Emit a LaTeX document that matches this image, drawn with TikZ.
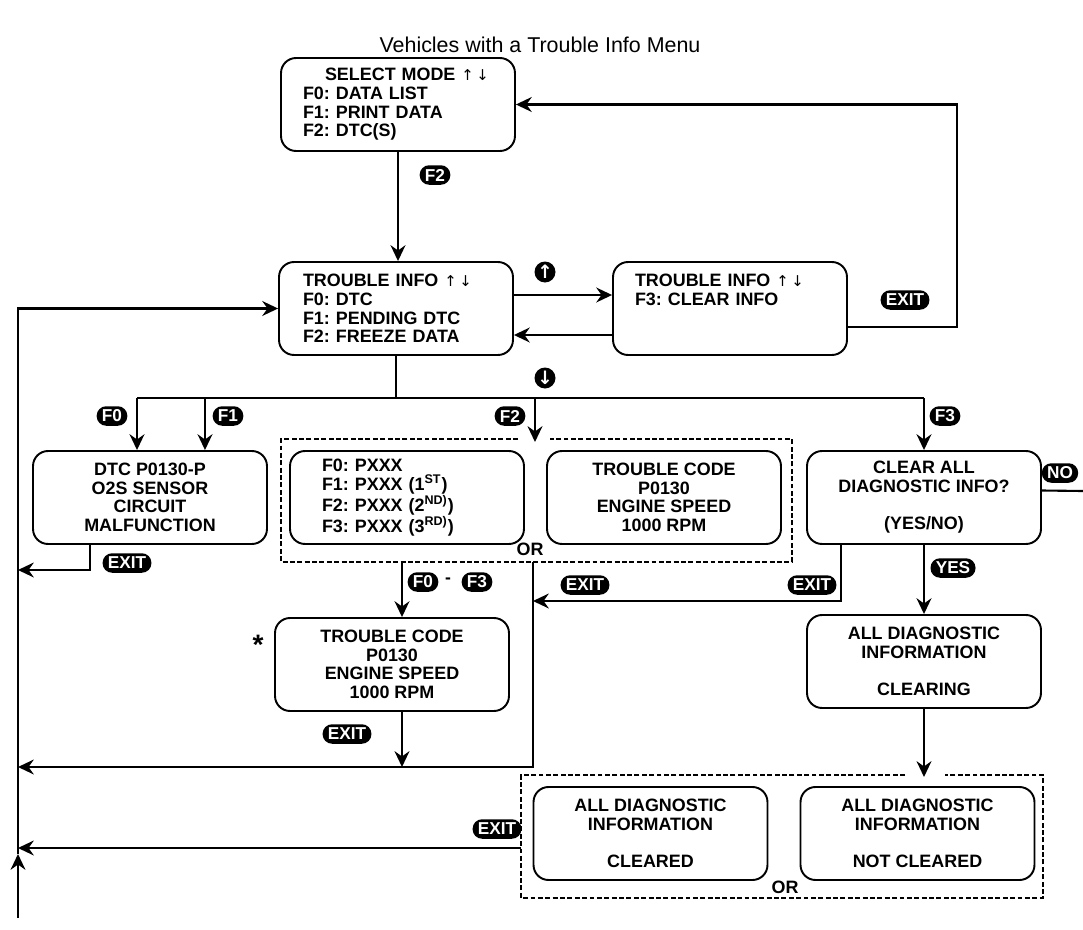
\documentclass[tikz,border=0pt]{standalone}
\usepackage{fontspec}
\setmainfont{Liberation Sans}
\newfontfamily\symfont{DejaVu Sans}
\usepackage{tikz}
\usetikzlibrary{arrows.meta,positioning,calc}
\newcommand{\updn}{{\symfont\mdseries\fontsize{8.5}{8.5}\selectfont ↑\,↓}}
\frenchspacing

\begin{document}
\begin{tikzpicture}[x=0.02cm,y=-0.02cm,
  scr/.style={draw,line width=1.1pt,rounded corners=0.3cm,minimum width=4.68cm,
              minimum height=1.86cm,inner sep=0pt,align=center,
              font=\bfseries\fontsize{10.2}{10.6}\selectfont},
  btn/.style={fill=black,text=white,rounded corners=0.19cm,minimum height=0.39cm,
              inner xsep=3pt,inner ysep=0pt,font=\bfseries\fontsize{9.8}{9.8}\selectfont},
  rnd/.style={circle,fill=black,text=white,minimum size=0.42cm,inner sep=0pt,
              font=\symfont\bfseries\fontsize{10.5}{10.5}\selectfont},
  grp/.style={line width=1pt,dash pattern=on 2.8pt off 1.4pt},
  arr/.style={-{Stealth[length=9pt,width=8.5pt,inset=3pt]},line width=1.2pt},
  lin/.style={line width=1.2pt}
]
  \useasboundingbox (0,0) rectangle (1083,930);
  \node[font=\fontsize{12.2}{14}\selectfont] (title) at (540,45) {Vehicles with a Trouble Info Menu};

  \node[scr,align=left,text width=3.8cm] (sel) at (398,104.5)
      {\hspace*{0.44cm}SELECT MODE \updn\\F0: DATA LIST\\F1: PRINT DATA\\F2: DTC(S)};
  \node[scr,align=left,text width=3.72cm] (ti1) at (396,308.5)
      {TROUBLE INFO \updn\\F0: DTC\\F1: PENDING DTC\\F2: FREEZE DATA};
  \node[scr,align=left,text width=3.8cm] (ti2) at (730,308.5)
      {TROUBLE INFO \updn\\F3: CLEAR INFO\\\mbox{}\\\mbox{}};
  \node[scr] (dtc) at (150,497.5) {DTC P0130-P\\O2S SENSOR\\CIRCUIT\\MALFUNCTION};
  \node[scr,align=left,text width=3.4cm] (pids) at (407,497.5)
      {F0: PXXX\\F1: PXXX (1\textsuperscript{ST})\\F2: PXXX (2\textsuperscript{ND)})\\F3: PXXX (3\textsuperscript{RD)})};
  \node[scr] (tc1) at (664,497.5) {TROUBLE CODE\\P0130\\ENGINE SPEED\\1000 RPM};
  \node[scr] (clr) at (924,497.5) {CLEAR ALL\\DIAGNOSTIC INFO?\\[10.6pt](YES/NO)};
  \node[scr] (tc2) at (392,664.5) {TROUBLE CODE\\P0130\\ENGINE SPEED\\1000 RPM};
  \node[scr] (clrg) at (924,661.5) {ALL DIAGNOSTIC\\INFORMATION\\[10.6pt]CLEARING};
  \node[scr] (done) at (650.5,833.5) {ALL DIAGNOSTIC\\INFORMATION\\[10.6pt]CLEARED};
  \node[scr] (fail) at (917.5,833.5) {ALL DIAGNOSTIC\\INFORMATION\\[10.6pt]NOT CLEARED};

  \draw[grp] (518,439) -- (281,439) -- (281,562) -- (792,562) -- (792,439) -- (550,439);
  \draw[grp] (905,775) -- (521,775) -- (521,898) -- (1043,898) -- (1043,775) -- (945,775);
  \node[font=\bfseries\fontsize{10.2}{10.6}\selectfont] (or1) at (530,549) {OR};
  \node[font=\bfseries\fontsize{10.2}{10.6}\selectfont] (or2) at (785,887) {OR};
  \node[font=\bfseries\fontsize{16}{16}\selectfont] (star) at (258,645) {*};

  \coordinate (br) at (396,398);
  \coordinate (g1in) at (535,442);
  \coordinate (g1out) at (402,562);
  \coordinate (g1r) at (533,562);
  \coordinate (g2in) at (924,777);
  \coordinate (g2out) at (521,848);
  \coordinate (rt) at (957,104.5);
  \coordinate (l1) at (18,570);
  \coordinate (l2) at (18,767);
  \coordinate (l3) at (18,848);
  \coordinate (lbot) at (18,918);
  \coordinate (lup) at (18,854);
  \coordinate (ex) at (533,601);
  \coordinate (nox) at (1083,491);

  \draw[arr] (sel.south) -- (sel.south |- ti1.north);
  \draw[arr] ([yshift=0.27cm]ti1.east) -- ([yshift=0.27cm]ti2.west);
  \draw[arr] ([yshift=-0.53cm]ti2.west) -- ([yshift=-0.53cm]ti1.east);
  \draw[arr] ([yshift=-0.37cm]ti2.east) -| (rt) -- (sel.east);
  \draw[lin] (ti1.south) -- (br);
  \draw[lin] ([xshift=-0.26cm]dtc.north |- br) -- (clr.north |- br);
  \draw[arr] ([xshift=-0.26cm]dtc.north |- br) -- ([xshift=-0.26cm]dtc.north);
  \draw[arr] ([xshift=1.1cm]dtc.north |- br) -- ([xshift=1.1cm]dtc.north);
  \draw[arr] (g1in |- br) -- (g1in);
  \draw[arr] (clr.north |- br) -- (clr.north);
  \draw[arr] ([xshift=-1.2cm]dtc.south) |- (l1);
  \draw[arr] (g1out) -- (g1out |- tc2.north);
  \draw[arr] (g1out |- tc2.south) -- (g1out |- l2);
  \draw[arr] (g1r) |- (l2);
  \draw[arr] ([xshift=-1.66cm]clr.south) |- (ex);
  \draw[lin] ([yshift=0.14cm]clr.east) -- (nox);
  \draw[arr] (clr.south) -- (clrg.north);
  \draw[arr] (clrg.south) -- (g2in);
  \draw[arr] (g2out) -- (l3);
  \draw[arr] (lbot) -- (lup);
  \draw[arr] (lup) |- (ti1.west);

  \node[btn] (kf2a) at (435,175) {F2};
  \node[rnd] (kup) at (545,272) {↑};
  \node[rnd] (kdn) at (545,378) {↓};
  \node[btn] (kx1) at (905,300) {EXIT};
  \node[btn] (kf0) at (112,416) {F0};
  \node[btn] (kf1) at (228,416) {F1};
  \node[btn] (kf2) at (510,416) {F2};
  \node[btn] (kf3) at (945,416) {F3};
  \node[btn] (kno) at (1060,473) {NO};
  \node[btn] (kx2) at (127,563) {EXIT};
  \node[btn] (kf0b) at (423,582) {F0};
  \node[font=\bfseries] (dash) at (448,581) {-};
  \node[btn] (kf3b) at (477,582) {F3};
  \node[btn] (kx3) at (585,585) {EXIT};
  \node[btn] (kx4) at (812,585) {EXIT};
  \node[btn] (kyes) at (953,568) {YES};
  \node[btn] (kx5) at (347,734) {EXIT};
  \node[btn] (kx6) at (497,829) {EXIT};
\end{tikzpicture}
\end{document}
